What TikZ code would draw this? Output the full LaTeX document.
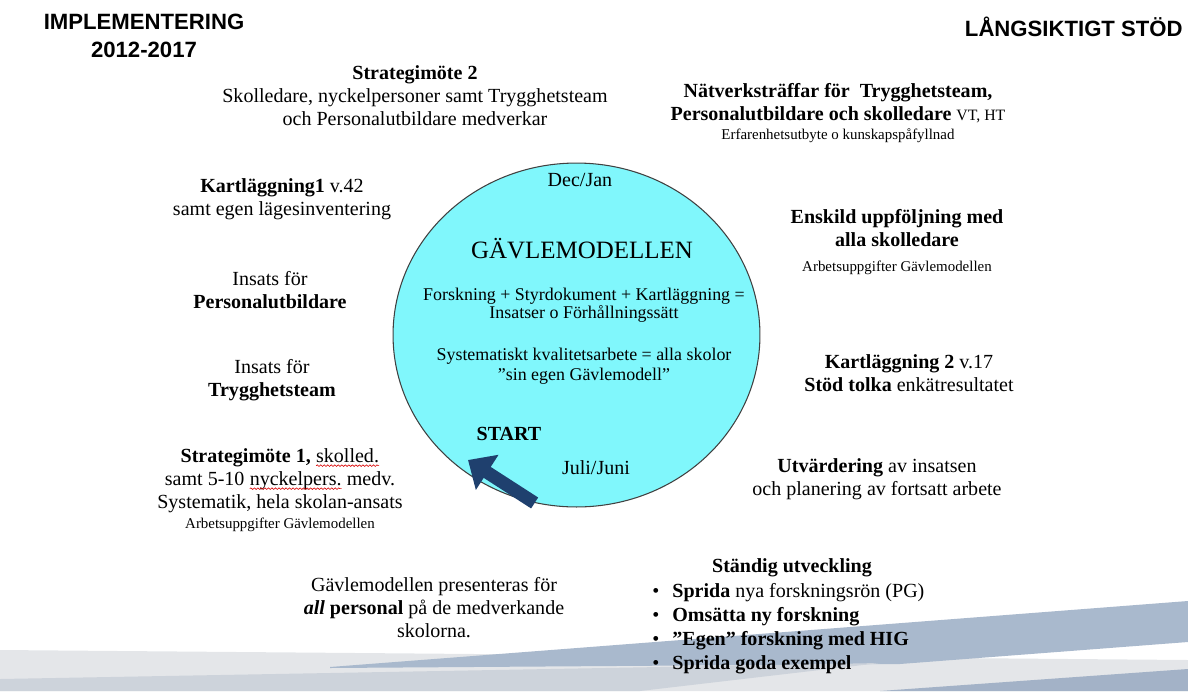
\documentclass[tikz,border=0pt]{standalone}
\usepackage{fontspec}
\setmainfont{Liberation Serif}
\newfontfamily\headfont{Liberation Sans}
\usetikzlibrary{shapes.geometric,arrows.meta,decorations.pathmorphing}

\definecolor{circfill}{RGB}{128,247,252}
\definecolor{arrowblue}{RGB}{31,64,110}
\definecolor{bandblue}{RGB}{169,185,205}
\definecolor{bandgray}{RGB}{228,230,233}
\definecolor{bandmid}{RGB}{205,211,219}
\definecolor{bandlow}{RGB}{163,178,199}

\newcommand\bodysz{\fontsize{11.4}{13.1}\selectfont}
\newcommand\smallsz{\fontsize{8.5}{10}\selectfont}
\newcommand\innersz{\fontsize{10.2}{10.4}\selectfont}
\newcommand\spellmark[1]{\tikz[baseline=(sw.base)]{\node[inner sep=0pt,outer sep=0pt](sw){#1};
  \draw[red!85!black,line width=0.35pt,decorate,decoration={snake,amplitude=0.45pt,segment length=2pt}]
  ([yshift=-2pt]sw.base west) -- ([yshift=-2pt]sw.base east);}}

\begin{document}
\begin{tikzpicture}[x=0.02cm,y=-0.02cm,
  txt/.style={align=center,font=\bodysz,inner sep=0pt},
  inner/.style={align=center,font=\innersz,inner sep=0pt},
  head/.style={align=center,font=\headfont\bfseries\fontsize{12.6}{16}\selectfont,inner sep=0pt},
  bigarrow/.style={arrowblue,line width=7.4pt,-{Triangle[width=23pt,length=13pt]}}]

\useasboundingbox (0,0) rectangle (1188,691);

\begin{scope}
\fill[bandgray] (0,650) -- (1188,660) -- (1188,691) -- (0,691) -- cycle;
\fill[bandblue] (330,667) -- (1188,601) -- (1188,642) -- (900,664) -- (330,668) -- cycle;
\fill[bandmid] (0,679) -- (880,663) -- (640,691) -- (0,691) -- cycle;
\fill[bandlow] (880,691) -- (1188,669) -- (1188,691) -- cycle;
\end{scope}

\node[head] (impl) at (144,36) {IMPLEMENTERING\\2012-2017};
\node[head,anchor=east] (stod) at (1183,27) {LÅNGSIKTIGT STÖD};

\node[ellipse,draw=black!75,line width=0.6pt,fill=circfill,minimum width=7.34cm,minimum height=6.88cm,inner sep=0pt] (gavle) at (576.5,335) {};
\node[txt] (decjan) at (580,180) {Dec/Jan};
\node[txt,font=\fontsize{14.2}{16}\selectfont] (gmtitle) at (582,249) {GÄVLEMODELLEN};
\node[inner] (forsk) at (584,305) {Forskning + Styrdokument + Kartläggning =\\Insatser o Förhållningssätt};
\node[inner,font=\fontsize{10.2}{11.4}\selectfont] (syst) at (584,366) {Systematiskt kvalitetsarbete = alla skolor\\"sin egen Gävlemodell"};
\node[txt,font=\bodysz\bfseries] (start) at (509,434) {START};
\node[txt] (julijuni) at (596,468) {Juli/Juni};

\coordinate (arrtip) at (468,460);
\draw[bigarrow] (gavle.256) -- (arrtip);

\node[txt] (strat2) at (415,96) {\textbf{Strategimöte 2}\\Skolledare, nyckelpersoner samt Trygghetsteam\\och Personalutbildare medverkar};
\node[txt] (natverk) at (838,113) {\textbf{Nätverksträffar för\ \ Trygghetsteam,}\\\textbf{Personalutbildare och skolledare} {\fontsize{9}{10}\selectfont VT, HT}\\[-2.5pt]{\smallsz Erfarenhetsutbyte o kunskapspåfyllnad}};
\node[txt] (kart1) at (282,199) {\textbf{Kartläggning1} v.42\\samt egen lägesinventering};
\node[txt] (insatspu) at (270,290) {Insats för\\\textbf{Personalutbildare}};
\node[txt] (insatstt) at (272,380) {Insats för\\\textbf{Trygghetsteam}};
\node[txt] (strat1) at (280,490) {\textbf{Strategimöte 1,} \spellmark{skolled.}\\samt 5-10 \spellmark{nyckelpers.} medv.\\Systematik, hela skolan-ansats\\[-1.5pt]{\smallsz Arbetsuppgifter Gävlemodellen}};
\node[txt] (present) at (434,608) {Gävlemodellen presenteras för\\\textbf{\textit{all}} \textbf{personal} på de medverkande\\skolorna.};
\node[txt] (enskild) at (897,242) {\textbf{Enskild uppföljning med}\\\textbf{alla skolledare}\\[1.5pt]{\smallsz Arbetsuppgifter Gävlemodellen}};
\node[txt] (kart2) at (909,373) {\textbf{Kartläggning 2} v.17\\\textbf{Stöd tolka} enkätresultatet};
\node[txt] (utvard) at (877,479) {\textbf{Utvärdering} av insatsen\\och planering av fortsatt arbete};
\node[txt] (standig) at (792,568) {\textbf{Ständig utveckling}};
\node[txt,align=left,anchor=north west,font=\fontsize{11.4}{13.6}\selectfont] (list) at (652,583)
  {\makebox[11.4pt][l]{•}\textbf{Sprida} nya forskningsrön (PG)\\
   \makebox[11.4pt][l]{•}\textbf{Omsätta ny forskning}\\
   \makebox[11.4pt][l]{•}\textbf{”Egen” forskning med HIG}\\
   \makebox[11.4pt][l]{•}\textbf{Sprida goda exempel}};

\end{tikzpicture}
\end{document}
